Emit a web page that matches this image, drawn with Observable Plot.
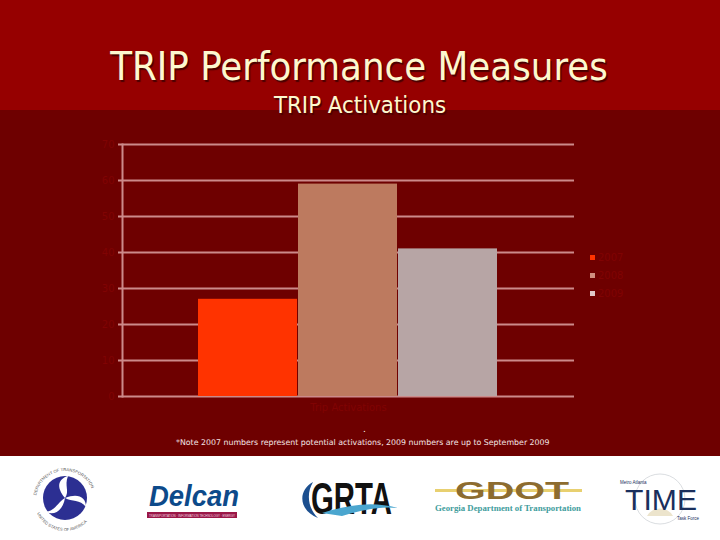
<!DOCTYPE html>
<html><head><meta charset="utf-8">
<script src="https://cdn.jsdelivr.net/npm/d3@7"></script>
<script src="https://cdn.jsdelivr.net/npm/@observablehq/plot@0.6"></script>
<style>
html,body{margin:0;padding:0;background:#fff}
#slide{position:relative;width:720px;height:540px;overflow:hidden;background:#fff;font-family:"DejaVu Sans",sans-serif}
.abs{position:absolute}
#top{left:0;top:0;width:720px;height:110px;background:#960000}
#mid{left:0;top:110px;width:720px;height:346px;background:#6e0000}
#title,#sub{left:0;width:720px;text-align:center;color:#fdf8cf;font-family:"DejaVu Sans Condensed","DejaVu Sans",sans-serif;font-stretch:condensed;text-shadow:1.5px 1.5px 1px #4a0000;white-space:nowrap}
#title{top:43px;font-size:39.7px;line-height:46px;left:-1px}
#sub{top:90px;font-size:23.8px;line-height:30px;left:0}
#chart{left:0;top:130px}
#chart svg{display:block;background:transparent}
#dot{left:363px;top:424px;color:#fff;font-size:9px;line-height:10px}
#note{left:176px;top:437px;color:#f4e4e4;font-size:7.85px;line-height:11px;white-space:nowrap;font-family:"DejaVu Sans",sans-serif}
.leg{left:590px;width:60px;height:11px;font-size:10px;line-height:11px;color:#800303}
.leg i{position:absolute;left:0;top:2px;width:5px;height:5px}
.leg span{position:absolute;left:8px;top:-1px}
#logos{left:0;top:456px}
</style></head><body>
<div id="slide">
<div class="abs" id="top"></div><div class="abs" id="mid"></div>
<div class="abs" id="title"></div><div class="abs" id="sub"></div>
<div class="abs" id="chart"></div>
<div class="abs" id="dot">.</div><div class="abs" id="note"></div>
<div id="legend"></div>
<svg class="abs" id="logos" width="720" height="84" viewBox="0 0 720 84">
  <defs>
    <path id="arcTop" d="M36 44 A29 29 0 0 1 94 44" fill="none"/>
    <path id="arcBot" d="M34 44 A31 31 0 0 0 96 44" fill="none"/>
  </defs>
  <circle cx="65" cy="42" r="22" fill="#2c2f92"/>
  <path d="M65 42 C56 31 58 23 68 20 C64 30 70 35 65 42 Z" fill="#fff"/>
  <path d="M65 42 C78 37 86 41 86 51 C80 43 72 46 65 42 Z" fill="#fff"/>
  <path d="M65 42 C63 54 55 60 46 56 C56 54 58 46 65 42 Z" fill="#fff"/>
  <text font-size="4.2" font-family="Liberation Sans" fill="#555"><textPath href="#arcTop" startOffset="5%">DEPARTMENT OF TRANSPORTATION</textPath></text>
  <text font-size="4.2" font-family="Liberation Sans" fill="#555"><textPath href="#arcBot" startOffset="14%">UNITED STATES OF AMERICA</textPath></text>
  <text x="149" y="50" font-family="Liberation Sans" font-weight="700" font-style="italic" font-size="30" textLength="90" lengthAdjust="spacingAndGlyphs" fill="#0d4a8a">Delcan</text>
  <rect x="147" y="56" width="90" height="6" fill="#9a1747"/>
  <text x="192" y="60.7" text-anchor="middle" font-size="4" fill="#f0d8e0" textLength="86" lengthAdjust="spacingAndGlyphs" font-family="Liberation Sans">TRANSPORTATION · INFORMATION TECHNOLOGY · ENERGY</text>
  <path d="M313 26 C298 34 298 54 318 62 C308 52 306 38 313 26 Z" fill="#1c4f8f"/>
  <text x="311" y="58" font-family="Liberation Sans" font-weight="700" font-size="44" textLength="81" lengthAdjust="spacingAndGlyphs" fill="#111">GRTA</text>
  <path d="M322 57 C345 50 370 44 398 52 C380 50 362 54 342 60 Z" fill="#4aa6cf"/>
  <rect x="435" y="33" width="147" height="3" fill="#e8d070"/>
  <text x="512" y="43" text-anchor="middle" font-family="Liberation Sans" font-weight="700" font-size="23" textLength="114" lengthAdjust="spacingAndGlyphs" fill="#8d6c2f">GDOT</text>
  <text x="508" y="55" text-anchor="middle" font-family="Liberation Serif" font-weight="700" font-size="8" textLength="146" lengthAdjust="spacingAndGlyphs" fill="#3f9d9d">Georgia Department of Transportation</text>
  <circle cx="660" cy="43" r="25" fill="none" stroke="#d0d4d8" stroke-width="0.8"/>
  <path d="M647 60 A15 15 0 0 1 673 60 Z" fill="#ece4cc"/>
  <text x="661" y="54" text-anchor="middle" font-family="Liberation Sans" font-size="29" textLength="72" lengthAdjust="spacingAndGlyphs" fill="#1a2f5c">TIME</text>
  <text x="620" y="28" font-family="Liberation Sans" font-size="4.5" fill="#1a2f5c">Metro Atlanta</text>
  <text x="677" y="64" font-family="Liberation Sans" font-size="4.5" fill="#1a2f5c">Task Force</text>
</svg>
</div>
<script>
const titleText = "TRIP Performance Measures";
const subtitleText = "TRIP Activations";
const noteText = "*Note 2007 numbers represent potential activations, 2009 numbers are up to September 2009";
const category = "Trip Activations";
const years = ["2007", "2008", "2009"];
const activations = [27, 59, 41];
const yTicks = [0, 10, 20, 30, 40, 50, 60, 70];
const barColors = ["#ff3300", "#bd7a5f", "#b7a5a5"];
const swatchColors = ["#ff3300", "#d08f80", "#e0c8c8"];
const legendTops = [253, 271, 289];

document.getElementById("title").textContent = titleText;
document.getElementById("sub").textContent = subtitleText;
document.getElementById("note").textContent = noteText;

const rows = years.map((year, i) => ({category, year, value: activations[i]}));
const muted = "#800303", axisLine = "#cc8a8a";

const chart = Plot.plot({
  width: 720, height: 326,
  marginLeft: 122, marginRight: 146, marginTop: 14, marginBottom: 60,
  style: {background: "transparent", fontFamily: "DejaVu Sans"},
  fx: {domain: [category], padding: 0, axis: null, label: null},
  x: {domain: years, paddingInner: 0, paddingOuter: 0.76, axis: null},
  y: {domain: [0, 70], ticks: yTicks, label: null},
  color: {domain: years, range: barColors},
  marks: [
    Plot.ruleY(yTicks, {stroke: axisLine, strokeWidth: 2, strokeOpacity: 1}),
    Plot.frame({anchor: "left", stroke: axisLine, strokeWidth: 2, strokeOpacity: 1}),
    Plot.barY(rows, {fx: "category", x: "year", y: "value", fill: "year", insetRight: 1}),
    Plot.axisY(yTicks, {tickSize: 4, tickPadding: 4, stroke: axisLine, strokeWidth: 2, strokeOpacity: 1, fill: muted, fontSize: 10, label: null}),
    Plot.axisFx({anchor: "bottom", tickSize: 0, tickPadding: 7, fill: muted, fontSize: 10, label: null})
  ]
});
document.getElementById("chart").append(chart);

const legend = document.getElementById("legend");
years.forEach((year, i) => {
  const d = document.createElement("div");
  d.className = "abs leg";
  d.style.top = legendTops[i] + "px";
  d.innerHTML = `<i style="background:${swatchColors[i]}"></i><span>${year}</span>`;
  legend.append(d);
});
</script>
</body></html>
